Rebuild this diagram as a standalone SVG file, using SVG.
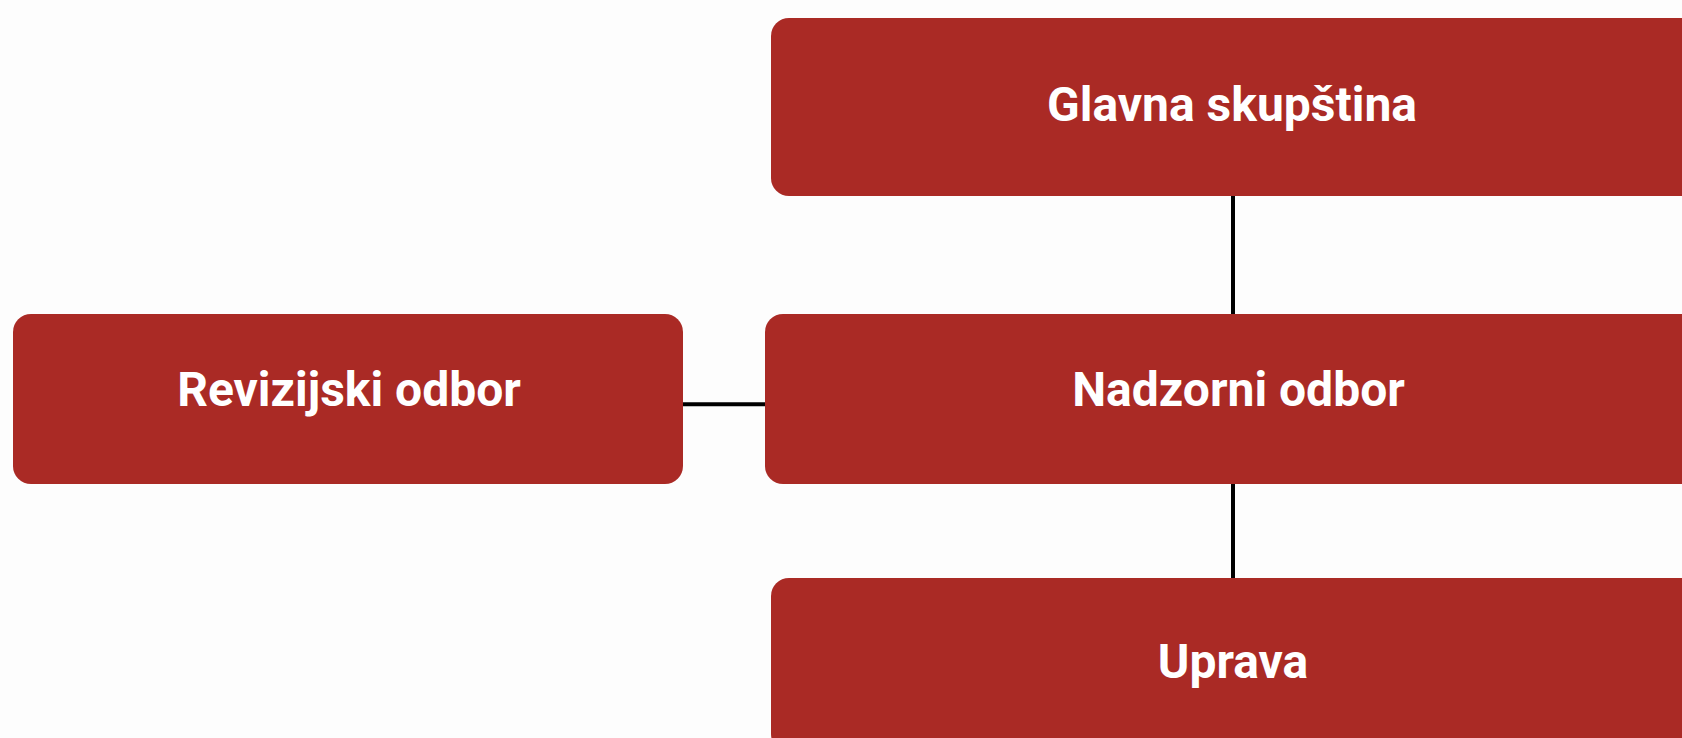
<svg xmlns="http://www.w3.org/2000/svg" width="1682" height="738" viewBox="0 0 1682 738">
<style>
.box{fill:#AA2A25}
.lbl{font-family:Roboto,"Liberation Sans",sans-serif;font-weight:700;font-size:48px;fill:#FFFFFF;text-anchor:middle}
.conn{stroke:#000000;stroke-width:4;fill:none}
</style>
<rect x="0" y="0" width="1682" height="738" fill="#FDFDFD"/>
<g id="connectors">
<line class="conn" x1="1233" y1="195" x2="1233" y2="315"/>
<line class="conn" x1="1233" y1="483" x2="1233" y2="579"/>
<line class="conn" x1="682" y1="404.3" x2="766" y2="404.3"/>
</g>
<g id="glavna-skupstina">
<rect class="box" x="771" y="18" width="930" height="178" rx="18"/>
<text class="lbl" x="1232" y="121">Glavna skupština</text>
</g>
<g id="revizijski-odbor">
<rect class="box" x="13" y="314" width="670" height="170" rx="18"/>
<text class="lbl" x="349" y="406">Revizijski odbor</text>
</g>
<g id="nadzorni-odbor">
<rect class="box" x="765" y="314" width="947" height="170" rx="18"/>
<text class="lbl" x="1238.5" y="405.5">Nadzorni odbor</text>
</g>
<g id="uprava">
<rect class="box" x="771" y="578" width="930" height="174" rx="18"/>
<text class="lbl" x="1233" y="678">Uprava</text>
</g>
</svg>
